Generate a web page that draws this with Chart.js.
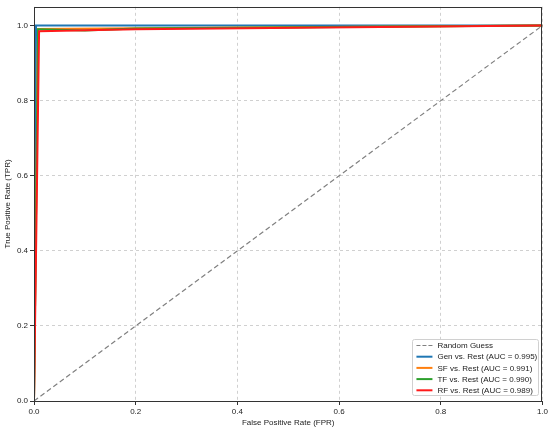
<!DOCTYPE html>
<html>
<head>
<meta charset="utf-8">
<script src="https://cdn.jsdelivr.net/npm/chart.js@4"></script>
<style>
  html, body { margin: 0; padding: 0; background: #fff; }
  #wrap { width: 550px; height: 428px; }
</style>
</head>
<body>
<div id="wrap"><canvas id="miGrafica" width="550" height="428"></canvas></div>
<script>
// Datos
const etiquetas = ["Random Guess", "Gen vs. Rest (AUC = 0.995)", "SF vs. Rest (AUC = 0.991)", "TF vs. Rest (AUC = 0.990)", "RF vs. Rest (AUC = 0.989)"];
const colores = ["#808080", "#1f77b4", "#ff7f0e", "#2ca02c", "#ff1a1a"];

const randomX = [0, 1];
const randomY = [0, 1];
const genX = [0, 0.004, 1];
const genY = [0, 1.0, 1];
const sfX = [0, 0.008, 0.2, 1];
const sfY = [0, 0.991, 0.993, 1];
const tfX = [0, 0.008, 0.1, 0.2, 1];
const tfY = [0, 0.99, 0.987, 0.992, 1];
const rfX = [0, 0.01, 0.2, 1];
const rfY = [0, 0.985, 0.99, 1];

const ticksX = [0, 0.2, 0.4, 0.6, 0.8, 1.0];
const ticksY = [0, 0.2, 0.4, 0.6, 0.8, 1.0];

const puntos = (xs, ys) => xs.map((x, i) => ({ x: x, y: ys[i] }));

const fuente = "'Liberation Sans', Arial, sans-serif";

// marco + leyenda dentro del area
const marcoLeyenda = {
  id: "marcoLeyenda",
  afterDraw(chart) {
    const c = chart.ctx;
    const a = chart.chartArea;
    c.save();
    c.strokeStyle = "#333";
    c.lineWidth = 1;
    c.setLineDash([]);
    c.strokeRect(Math.round(a.left) + 0.5, Math.round(a.top) + 0.5, Math.round(a.right - a.left) - 1, Math.round(a.bottom - a.top));

    // leyenda
    const w = 126, h = 56;
    const x0 = a.right - w - 4, y0 = a.bottom - h - 6;
    c.fillStyle = "rgba(255,255,255,0.8)";
    c.strokeStyle = "#d0d0d0";
    c.beginPath();
    c.roundRect(Math.round(x0) + 0.5, Math.round(y0) + 0.5, w, h, 2);
    c.fill();
    c.stroke();
    c.font = "8px " + fuente;
    c.textBaseline = "middle";
    etiquetas.forEach((t, i) => {
      const y = y0 + 6.5 + i * 11.2;
      c.strokeStyle = colores[i];
      c.lineWidth = i === 0 ? 1.2 : 2;
      c.setLineDash(i === 0 ? [4, 2] : []);
      c.beginPath();
      c.moveTo(x0 + 4, y);
      c.lineTo(x0 + 20, y);
      c.stroke();
      c.fillStyle = "#222";
      c.fillText(t, x0 + 25, y + 0.5);
    });
    c.restore();
  }
};

const ejeComun = {
  type: "linear",
  ticks: { font: { size: 8, family: fuente }, color: "#222", padding: 2, callback: (v) => v.toFixed(1) },
  grid: { color: "#d0d0d0", tickColor: "#333", tickLength: 4, tickBorderDash: [], tickWidth: 1 },
  border: { display: false, dash: [3, 3] },
};

const ctx = document.getElementById("miGrafica").getContext("2d");
new Chart(ctx, {
  type: "scatter",
  data: {
    datasets: [
      { label: etiquetas[0], data: puntos(randomX, randomY), borderColor: colores[0], borderWidth: 1.2, borderDash: [5, 3], order: 5 },
      { label: etiquetas[1], data: puntos(genX, genY), borderColor: colores[1], borderWidth: 2, order: 4 },
      { label: etiquetas[2], data: puntos(sfX, sfY), borderColor: colores[2], borderWidth: 2, order: 3 },
      { label: etiquetas[3], data: puntos(tfX, tfY), borderColor: colores[3], borderWidth: 2, order: 2 },
      { label: etiquetas[4], data: puntos(rfX, rfY), borderColor: colores[4], borderWidth: 2, order: 1 },
    ].map(d => Object.assign(d, { showLine: true, pointRadius: 0, fill: false, tension: 0 })),
  },
  options: {
    responsive: false,
    animation: false,
    layout: { padding: { top: 5, right: 7, left: 3, bottom: 0 } },
    plugins: { legend: { display: false }, tooltip: { enabled: false } },
    scales: {
      x: Object.assign({}, ejeComun, {
        min: 0, max: 1,
        afterBuildTicks: (s) => { s.ticks = ticksX.map(v => ({ value: v })); },
        afterFit: (s) => { s.height = 27; },
        title: { display: true, text: "False Positive Rate (FPR)", font: { size: 8, family: fuente }, color: "#222", padding: { top: 1, bottom: 0 } },
      }),
      y: Object.assign({}, ejeComun, {
        min: 0, max: 1.05,
        afterBuildTicks: (s) => { s.ticks = ticksY.map(v => ({ value: v })); },
        afterFit: (s) => { s.width = 31; },
        title: { display: true, text: "True Positive Rate (TPR)", font: { size: 8, family: fuente }, color: "#222", padding: { top: 0, bottom: 4 } },
      }),
    },
  },
  plugins: [marcoLeyenda],
});
</script>
</body>
</html>
